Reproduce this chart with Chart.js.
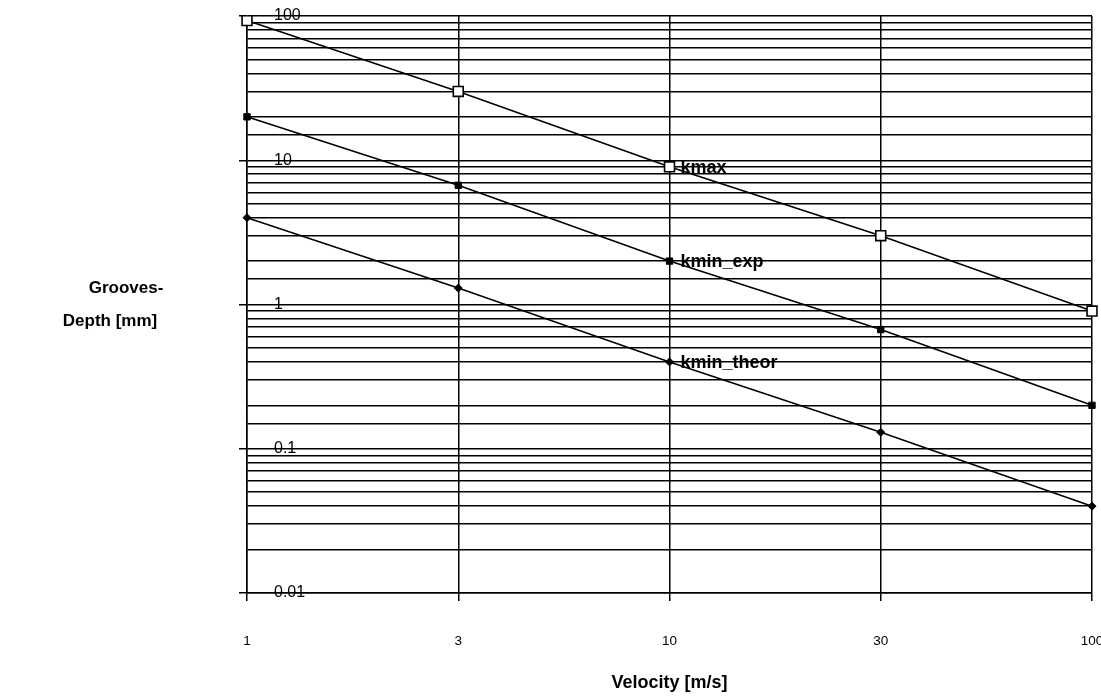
<!DOCTYPE html>
<html>
<head>
<meta charset="utf-8">
<script src="https://cdn.jsdelivr.net/npm/chart.js@4.4.0/dist/chart.umd.min.js"></script>
<style>
  html, body { margin: 0; padding: 0; background: #fff; }
  #wrap { position: relative; width: 1101px; height: 700px; }
</style>
</head>
<body>
<div id="wrap"><canvas id="c" width="1101" height="700"></canvas></div>
<script>
// ---- data ----
const velocities = ['1', '3', '10', '30', '100'];
const kmax = [93, 30, 9, 3, 0.9];
const kminExp = [20, 6.7, 2, 0.67, 0.2];
const kminTheor = [4, 1.3, 0.4, 0.13, 0.04];
const seriesNames = ['kmax', 'kmin_exp', 'kmin_theor'];
const yTickLabels = ['0.01', '0.1', '1', '10', '100'];
const xTitle = 'Velocity [m/s]';
const yTitleLines = ['Grooves-', 'Depth [mm]'];

const FONT = "'Liberation Sans', Arial, sans-serif";

function isDecade(v) {
  const l = Math.log10(v);
  return Math.abs(l - Math.round(l)) < 1e-6;
}

const seriesLabelPlugin = {
  id: 'seriesLabels',
  afterDatasetsDraw(chart) {
    const ctx = chart.ctx;
    ctx.save();
    ctx.font = 'bold 18px ' + FONT;
    ctx.fillStyle = '#000';
    ctx.textAlign = 'left';
    ctx.textBaseline = 'middle';
    chart.data.datasets.forEach((ds, i) => {
      const pt = chart.getDatasetMeta(i).data[2];
      ctx.fillText(ds.label, pt.x + 11, pt.y + 1);
    });
    ctx.restore();
  }
};

const yTitlePlugin = {
  id: 'yTitle',
  afterDraw(chart) {
    const ctx = chart.ctx;
    ctx.save();
    ctx.font = 'bold 17px ' + FONT;
    ctx.fillStyle = '#000';
    ctx.textAlign = 'center';
    ctx.textBaseline = 'middle';
    ctx.fillText(yTitleLines[0], 126, 288);
    ctx.fillText(yTitleLines[1], 110, 321);
    ctx.restore();
  }
};

new Chart(document.getElementById('c'), {
  type: 'line',
  data: {
    labels: velocities,
    datasets: [
      { label: seriesNames[0], data: kmax, borderColor: '#000', borderWidth: 1.6,
        pointStyle: 'rect', pointRadius: 7, pointBackgroundColor: '#fff',
        pointBorderColor: '#000', pointBorderWidth: 1.6, tension: 0 },
      { label: seriesNames[1], data: kminExp, borderColor: '#000', borderWidth: 1.6,
        pointStyle: 'rect', pointRadius: 4.5, pointBackgroundColor: '#000',
        pointBorderColor: '#000', pointBorderWidth: 1, tension: 0 },
      { label: seriesNames[2], data: kminTheor, borderColor: '#000', borderWidth: 1.6,
        pointStyle: 'rectRot', pointRadius: 4, pointBackgroundColor: '#000',
        pointBorderColor: '#000', pointBorderWidth: 1, tension: 0 }
    ]
  },
  options: {
    responsive: false,
    animation: false,
    devicePixelRatio: 1,
    layout: { padding: { left: 239, right: 9, top: 16, bottom: 0 } },
    plugins: { legend: { display: false }, tooltip: { enabled: false } },
    scales: {
      x: {
        type: 'category',
        offset: false,
        grid: { color: '#000', lineWidth: 1.5, tickLength: 8, tickColor: '#000', drawTicks: true },
        border: { color: '#000', width: 1.5 },
        ticks: { color: '#000', font: { family: FONT, size: 13.5 }, padding: 32, maxRotation: 0, autoSkip: false },
        title: { display: true, text: xTitle, color: '#000',
                 font: { family: FONT, size: 18, weight: 'bold' }, padding: { top: 22, bottom: 6 } },
        afterFit: (s) => { s.paddingLeft = 0; s.paddingRight = 0; s.height = 107; }
      },
      y: {
        type: 'logarithmic',
        min: 0.01,
        max: 100,
        grid: {
          color: '#000', lineWidth: 1.5, tickLength: 8,
          tickColor: (c) => (c.tick && isDecade(c.tick.value)) ? '#000' : 'rgba(0,0,0,0)'
        },
        border: { color: '#000', width: 1.5 },
        ticks: {
          mirror: true, padding: 27, color: '#000', autoSkip: false,
          font: { family: FONT, size: 16 },
          callback: (v) => {
            if (!isDecade(v)) return '';
            const idx = Math.round(Math.log10(v)) + 2;
            return yTickLabels[idx];
          }
        },
        afterFit: (s) => { s.width = 8; s.paddingTop = 0; s.paddingBottom = 0; }
      }
    }
  },
  plugins: [seriesLabelPlugin, yTitlePlugin]
});
</script>
</body>
</html>
